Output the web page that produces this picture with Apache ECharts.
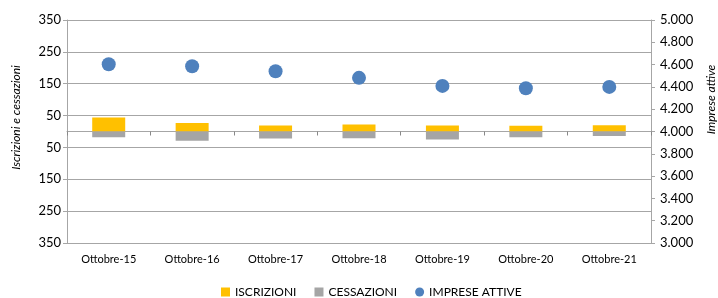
<!DOCTYPE html>
<html>
<head>
    <meta charset="UTF-8">
    <title>Iscrizioni, cessazioni e imprese attive</title>
    <script src="https://cdn.jsdelivr.net/npm/echarts@6/dist/echarts.min.js"></script>
    <style>
        html, body { margin: 0; padding: 0; background: #fff; }
        #main { width: 718px; height: 298px; }
    </style>
</head>
<body>
<div id="main"></div>
<script type="text/javascript">
    // dati
    var categorie = ['Ottobre-15', 'Ottobre-16', 'Ottobre-17', 'Ottobre-18', 'Ottobre-19', 'Ottobre-20', 'Ottobre-21'];
    var iscrizioni = [44, 27, 19, 22, 19, 18, 20];
    var cessazioni = [18, 29, 22, 21, 25, 18, 14];
    var impreseAttive = [4603, 4585, 4541, 4481, 4409, 4388, 4400];

    var font = 'Lato, "Open Sans", sans-serif';
    var grigio = '#a6a6a6';

    var echart = echarts.init(document.getElementById('main'));

    var option = {
        animation: false,
        textStyle: { fontFamily: font },
        grid: { left: 67, right: 67, top: 20, bottom: 55, outerBoundsMode: 'none' },
        legend: {
            left: 216,
            bottom: -5,
            itemWidth: 9,
            itemHeight: 9,
            itemGap: 18,
            textStyle: { fontFamily: font, fontSize: 12, color: '#000' },
            data: [
                { name: 'ISCRIZIONI', icon: 'rect' },
                { name: 'CESSAZIONI', icon: 'rect' },
                { name: 'IMPRESE ATTIVE', icon: 'circle' }
            ]
        },
        xAxis: [{
            // asse sullo zero: linea e tacche
            type: 'category',
            data: categorie,
            axisLine: { onZero: true, lineStyle: { color: grigio } },
            axisTick: { show: true, length: 4, lineStyle: { color: '#888' } },
            axisLabel: { show: false }
        }, {
            // etichette in basso
            type: 'category',
            data: categorie,
            position: 'bottom',
            axisLine: { show: false, onZero: false },
            axisTick: { show: false },
            axisLabel: { margin: 11, fontSize: 11, color: '#000', fontFamily: font }
        }],
        yAxis: [{
            type: 'value',
            min: -350,
            max: 350,
            interval: 100,
            name: 'Iscrizioni e cessazioni',
            nameLocation: 'middle',
            nameGap: 45,
            nameTextStyle: { fontStyle: 'italic', fontSize: 12, color: '#000', fontFamily: font, padding: [0, 0, 0, 28] },
            axisLine: { show: true, lineStyle: { color: grigio } },
            axisTick: { show: true, length: 4, lineStyle: { color: grigio } },
            axisLabel: {
                fontSize: 13, color: '#000', margin: 6,
                formatter: function (v) { return Math.abs(v); }
            },
            splitLine: { show: true, lineStyle: { color: grigio } }
        }, {
            type: 'value',
            min: 3000,
            max: 5000,
            interval: 200,
            name: 'Imprese attive',
            nameLocation: 'middle',
            nameRotate: 90,
            nameGap: 54,
            nameTextStyle: { fontStyle: 'italic', fontSize: 12, color: '#000', fontFamily: font, padding: [0, 0, 0, 64] },
            axisLine: { show: true, lineStyle: { color: grigio } },
            axisTick: { show: true, length: 4, lineStyle: { color: grigio } },
            axisLabel: {
                fontSize: 13, color: '#000', margin: 9,
                formatter: function (v) { return (v / 1000).toFixed(3); }
            },
            splitLine: { show: false }
        }],
        series: [{
            name: 'ISCRIZIONI',
            type: 'bar',
            stack: 'flussi',
            barWidth: 33,
            itemStyle: { color: '#ffc000' },
            data: iscrizioni
        }, {
            name: 'CESSAZIONI',
            type: 'bar',
            stack: 'flussi',
            barWidth: 33,
            itemStyle: { color: '#a5a5a5' },
            data: cessazioni.map(function (v) { return -v; })
        }, {
            name: 'IMPRESE ATTIVE',
            type: 'scatter',
            yAxisIndex: 1,
            symbolSize: 14,
            itemStyle: { color: '#4f81bd', opacity: 1 },
            data: impreseAttive
        }]
    };

    echart.setOption(option);
</script>
</body>
</html>
